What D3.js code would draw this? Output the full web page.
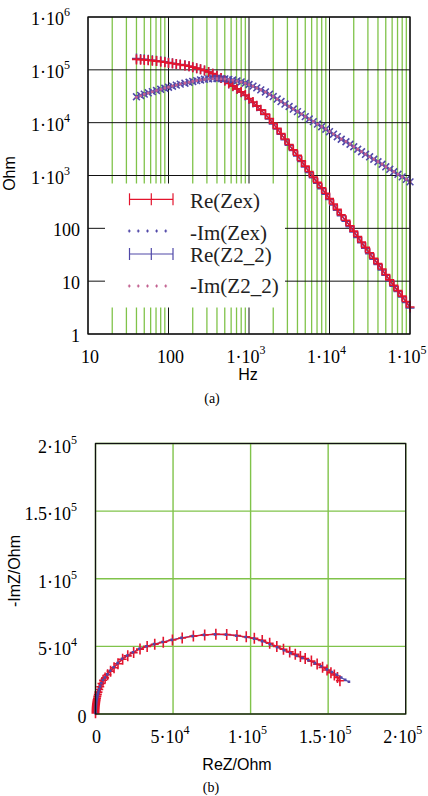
<!DOCTYPE html>
<html><head><meta charset="utf-8">
<script src="https://cdn.jsdelivr.net/npm/d3@7"></script>
<style>body{margin:0;background:#fff}svg{display:block}</style>
</head><body>
<svg id="c" width="428" height="796"></svg>
<script>
// ---------- data ----------
const freq = [40,45,50,56,63,71,80,90,
  100,112,125,140,160,180,200,224,250,280,315,355,400,450,500,560,630,710,800,900,
  1000,1120,1250,1400,1600,1800,2000,2240,2500,2800,3150,3550,4000,4500,5000,5600,6300,7100,8000,9000,
  10000,11200,12500,14000,16000,18000,20000,22400,25000,28000,31500,35500,40000,45000,50000,56000,63000,71000,80000,90000,
  100000];
const reZex = [157600,156000,154000,151800,149300,146400,142900,139200,135200,132100,
  128800,125200,121200,116900,112300,107500,102400,97200,91200,84600,
  77600,70400,63100,55900,49600,43700,38200,33300,28700,24600,
  20800,17500,14500,11960,9720,7810,6200,4900,3870,3060,
  2410,1905,1505,1189,939,741,586,462,365,288,
  228,180,142,112,88.6,70.0,55.3,43.7,34.5,27.2,
  21.5,17.0,13.4,10.6,8.36,6.61,5.22,4.12,3.25];
const imZex = [30900,32800,34700,36700,38700,40700,42800,44800,46800,49000,
  51300,53600,55900,58100,60300,62400,64400,66300,67500,68300,
  68500,68200,67400,66000,64100,61800,59100,56000,52700,49200,
  45600,41800,38200,34600,31200,28000,25100,22500,20200,18100,
  16200,14500,13000,11700,10460,9380,8400,7530,6750,6050,
  5430,4860,4360,3910,3500,3140,2820,2520,2260,2030,
  1820,1630,1460,1310,1174,1052,943,845,758];
const reZ2 = [163400,161000,158400,155600,152500,149200,145500,141500,137300,133400,
  129600,125700,121500,117100,112400,107400,102200,96800,90700,84100,
  77100,69900,62600,55400,49100,43200,37700,32800,28200,24100,
  20400,17100,14200,11680,9480,7600,6030,4760,3750,2960,
  2330,1840,1450,1145,904,713,563,444,351,277,
  219,173,136.5,107.6,85.0,67.2,53.1,41.9,33.1,26.1,
  20.6,16.3,12.9,10.2,8.03,6.35,5.01,3.96,3.12];
const imZ2 = [30300,32400,34500,36500,38600,40700,42900,45000,47000,49300,
  51600,53900,56100,58300,60400,62400,64300,66000,67200,67900,
  68100,67800,67000,65600,63700,61400,58700,55700,52400,49000,
  45400,41700,38100,34600,31200,28100,25200,22600,20300,18200,
  16300,14600,13100,11750,10520,9430,8450,7570,6790,6090,
  5460,4890,4390,3930,3520,3160,2830,2540,2270,2040,
  1830,1640,1470,1320,1180,1058,948,850,762];
// -Im (b)
const nyqImZex = [24600,27000,28800,30500,32500,34500,36900,39100,41000,42500,
  44100,45900,47900,50000,52300,54400,56000,57100,58000,58800,
  59000,58500,57600,56200,54700,53100,51600,50000,48000,45400,
  43000,40500,37200,34200,31700,29000,26700,24900,22500,20200,
  18100,16200,14500,13000,11650,10450,9360,8390,7520,6740,
  6040,5410,4850,4350,3900,3500,3140,2810,2520,2260,
  2030,1820,1630,1460,1310,1170,1050,940,845];
const nyqImZ2 = [23800,25200,27000,29000,31000,33000,35300,37600,39700,41400,
  43100,45000,47100,49300,51600,53900,55700,56900,57900,58700,
  58900,58500,57600,56300,54800,53200,51700,50100,48200,45700,
  43300,40800,37600,34600,32000,29300,27000,25100,22700,20400,
  18200,16300,14600,13050,11700,10500,9400,8420,7550,6770,
  6070,5440,4870,4370,3920,3510,3150,2820,2530,2270,
  2040,1830,1640,1470,1315,1175,1055,945,850];

const topXTicks = [10,100,1e3,1e4,1e5];
const topXLabels = ["10","100","1·10^3","1·10^4","1·10^5"];
const topYTicks = [1,10,100,1e3,1e4,1e5,1e6];
const topYLabels = ["1","10","100","1·10^3","1·10^4","1·10^5","1·10^6"];
const botTicks = [0,5e4,1e5,1.5e5,2e5];
const botLabels = ["0","5·10^4","1·10^5","1.5·10^5","2·10^5"];
const legendNames = ["Re(Zex)","-Im(Zex)","Re(Z2_2)","-Im(Z2_2)"];

// ---------- styles ----------
const RED="#e3142d", BLUE="#5048a8", PINK="#c2608f", GREEN="#80c34a", INK="#111";
const SERIF="'Liberation Serif','Times New Roman',serif", SANS="'Liberation Sans',Arial,sans-serif";
const svg = d3.select("#c");

function tickLabel(g, str, x, y, anchor){
  const parts = str.split("^");
  const t = g.append("text").attr("x",x).attr("y",y).attr("text-anchor",anchor)
    .attr("font-family",SERIF).attr("font-size",18).attr("fill","#000");
  t.append("tspan").text(parts[0]);
  if (parts[1]) t.append("tspan").attr("dy",-9).attr("font-size",12).text(parts[1]);
}
function plusPath(px, py, ax, ay){
  let d="";
  for (let i=0;i<px.length;i++){
    d += `M${px[i]-ax},${py[i]}h${2*ax}M${px[i]},${py[i]-ay}v${2*ay}`;
  }
  return d;
}
function crossPath(px, py, a){
  let d="";
  for (let i=0;i<px.length;i++){
    d += `M${px[i]-a},${py[i]-a}l${2*a},${2*a}M${px[i]-a},${py[i]+a}l${2*a},${-2*a}`;
  }
  return d;
}
function dotPath(px, py, s){
  let d="";
  for (let i=0;i<px.length;i++){
    d += `M${px[i]-s/2},${py[i]-s/2}h${s}v${s}h${-s}z`;
  }
  return d;
}
const isDecade = v => Math.abs(Math.log10(v) - Math.round(Math.log10(v))) < 1e-9;

// ---------- chart (a): Bode ----------
const x1 = d3.scaleLog().domain([10,1e5]).range([88,410]);
const y1 = d3.scaleLog().domain([1,1e6]).range([334,17]);
const g1 = svg.append("g");
const xt = x1.ticks();
g1.selectAll("line.minor").data(xt.filter(v=>!isDecade(v))).join("line")
  .attr("x1",d=>x1(d)).attr("x2",d=>x1(d)).attr("y1",y1(1e6)).attr("y2",y1(1))
  .attr("stroke",GREEN).attr("stroke-width",1.3);
g1.selectAll("line.vmaj").data(xt.filter(isDecade)).join("line")
  .attr("x1",d=>x1(d)).attr("x2",d=>x1(d)).attr("y1",y1(1e6)).attr("y2",y1(1))
  .attr("stroke",INK).attr("stroke-width",1);
g1.selectAll("line.hmaj").data(topYTicks).join("line")
  .attr("x1",x1(10)).attr("x2",x1(1e5)).attr("y1",d=>y1(d)).attr("y2",d=>y1(d))
  .attr("stroke",INK).attr("stroke-width",1);
// legend background
g1.append("rect").attr("x",105).attr("y",183.5).attr("width",180).attr("height",124).attr("fill","#fff");

const px1 = freq.map(f=>x1(f));
const lineLog = arr => d3.line().x((d,i)=>px1[i]).y(d=>y1(d))(arr);
// Re(Z2_2) underneath
g1.append("path").attr("d",lineLog(reZ2)).attr("fill","none").attr("stroke",BLUE).attr("stroke-width",1.2);
g1.append("path").attr("d",plusPath(px1, reZ2.map(v=>y1(v)),4.5,5)).attr("fill","none").attr("stroke",BLUE).attr("stroke-width",1.5);
// Re(Zex)
g1.append("path").attr("d",lineLog(reZex)).attr("fill","none").attr("stroke",RED).attr("stroke-width",1.2);
g1.append("path").attr("d",plusPath(px1, reZex.map(v=>y1(v)),4.5,5)).attr("fill","none").attr("stroke",RED).attr("stroke-width",1.6);
// -Im(Zex)
g1.append("path").attr("d",lineLog(imZex)).attr("fill","none").attr("stroke",BLUE).attr("stroke-width",1.2);
g1.append("path").attr("d",crossPath(px1, imZex.map(v=>y1(v)),3.4)).attr("fill","none").attr("stroke",BLUE).attr("stroke-width",1.6);
// -Im(Z2_2)
g1.append("path").attr("d",dotPath(px1, imZ2.map(v=>y1(v)),2.6)).attr("fill",PINK);

// frame
g1.append("rect").attr("x",88).attr("y",17).attr("width",322).attr("height",317)
  .attr("fill","none").attr("stroke",INK).attr("stroke-width",1.3);

// tick labels
topYTicks.forEach((v,i)=>{
  const exp = topYLabels[i].includes("^");
  tickLabel(g1, topYLabels[i], exp?70:80, y1(v)+8, "end");
});
topXTicks.forEach((v,i)=>{
  const exp = topXLabels[i].includes("^");
  tickLabel(g1, topXLabels[i], x1(v)+(exp?-3:2), 363, "middle");
});
// axis titles
g1.append("text").attr("x",248).attr("y",380).attr("text-anchor","middle")
  .attr("font-family",SANS).attr("font-size",16).text("Hz");
g1.append("text").attr("transform","translate(15,173.5) rotate(-90)").attr("text-anchor","middle")
  .attr("font-family",SANS).attr("font-size",16).text("Ohm");
g1.append("text").attr("x",212).attr("y",403).attr("text-anchor","middle")
  .attr("font-family",SERIF).attr("font-size",14).text("(a)");

// legend
const legY = [199.3,231,254,286], legBase=[208,240,262,293];
const lg = g1.append("g");
[[0,RED],[2,BLUE]].forEach(([k,c])=>{
  lg.append("line").attr("x1",129).attr("x2",173).attr("y1",legY[k]).attr("y2",legY[k]).attr("stroke",c).attr("stroke-width",1.2);
  [129.5,151.3,173].forEach(xx=>lg.append("line").attr("x1",xx).attr("x2",xx)
    .attr("y1",legY[k]-6).attr("y2",legY[k]+6).attr("stroke",c).attr("stroke-width",1.2));
});
[[1,BLUE],[3,PINK]].forEach(([k,c])=>{
  const xs=[129.3,138.3,147.5,156.6,165.7];
  lg.append("path").attr("d",plusPath(xs, xs.map(()=>legY[k]),1.4,1.4)).attr("fill","none").attr("stroke",c).attr("stroke-width",1.2);
});
legendNames.forEach((n,k)=>{
  lg.append("text").attr("x",190).attr("y",legBase[k]).attr("font-family",SERIF)
    .attr("font-size",21).attr("fill","#222").text(n);
});

// ---------- chart (b): Nyquist ----------
const x2 = d3.scaleLinear().domain([0,2e5]).range([95.5,405.7]);
const y2 = d3.scaleLinear().domain([0,2e5]).range([714,443.5]);
const g2 = svg.append("g");
g2.selectAll("line.v").data(botTicks).join("line")
  .attr("x1",d=>x2(d)).attr("x2",d=>x2(d)).attr("y1",y2(2e5)).attr("y2",y2(0))
  .attr("stroke",GREEN).attr("stroke-width",1.4);
g2.selectAll("line.h").data(botTicks).join("line")
  .attr("x1",x2(0)).attr("x2",x2(2e5)).attr("y1",d=>y2(d)).attr("y2",d=>y2(d))
  .attr("stroke",GREEN).attr("stroke-width",1.4);

const lineLin = (xa, ya) => d3.line().x((d,i)=>x2(xa[i])).y((d,i)=>y2(ya[i]))(xa);
g2.append("path").attr("d",lineLin(reZ2,nyqImZ2)).attr("fill","none").attr("stroke",BLUE).attr("stroke-width",1.2);
g2.append("path").attr("d",lineLin(reZex,nyqImZex)).attr("fill","none").attr("stroke",RED).attr("stroke-width",1.2);
g2.append("path").attr("d",plusPath(reZex.map(v=>x2(v)), nyqImZex.map(v=>y2(v)),4,5.5))
  .attr("fill","none").attr("stroke",RED).attr("stroke-width",1.6);
g2.append("path").attr("d",dotPath(reZ2.map(v=>x2(v)), nyqImZ2.map(v=>y2(v)),2.6)).attr("fill",BLUE);

g2.append("rect").attr("x",95.5).attr("y",443.5).attr("width",310.2).attr("height",270.5)
  .attr("fill","none").attr("stroke",INK).attr("stroke-width",1.3);

botTicks.forEach((v,i)=>{
  const exp = botLabels[i].includes("^");
  tickLabel(g2, botLabels[i], exp?77:86.5, y2(v)+9, "end");
  tickLabel(g2, botLabels[i], x2(v)+(exp?-3:1), 743, "middle");
});
g2.append("text").attr("x",237).attr("y",770).attr("text-anchor","middle")
  .attr("font-family",SANS).attr("font-size",16).text("ReZ/Ohm");
g2.append("text").attr("transform","translate(20,571) rotate(-90)").attr("text-anchor","middle")
  .attr("font-family",SANS).attr("font-size",16).text("-ImZ/Ohm");
g2.append("text").attr("x",211).attr("y",792).attr("text-anchor","middle")
  .attr("font-family",SERIF).attr("font-size",14).text("(b)");
</script>
</body></html>
